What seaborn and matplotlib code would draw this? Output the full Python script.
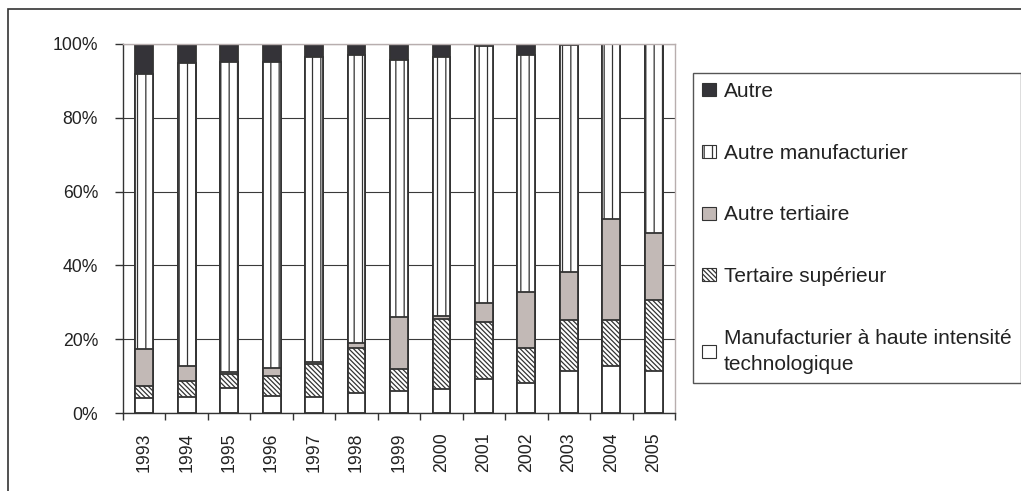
import numpy as np
import pandas as pd
import matplotlib.pyplot as plt
import seaborn as sns
from matplotlib.patches import Patch, Rectangle

years = ["1993", "1994", "1995", "1996", "1997", "1998", "1999",
         "2000", "2001", "2002", "2003", "2004", "2005"]
haute_tech = [4.1, 4.4, 6.9, 4.6, 4.4, 5.5, 6.0, 6.4, 9.1, 8.2, 11.4, 12.7, 11.4]
tert_sup = [3.2, 4.4, 3.6, 5.5, 8.8, 12.2, 5.8, 19.2, 15.5, 9.3, 13.8, 12.5, 19.2]
autre_tert = [10.0, 4.0, 0.6, 2.0, 0.5, 1.4, 14.1, 0.7, 5.3, 15.2, 13.1, 27.3, 18.3]
autre_manuf = [74.7, 82.0, 84.1, 83.1, 82.9, 77.9, 69.8, 70.3, 69.6, 64.3, 61.4, 47.5, 51.1]
autre = [8.0, 5.2, 4.8, 4.8, 3.4, 3.0, 4.3, 3.4, 0.5, 3.0, 0.3, 0.0, 0.0]

labels = ["Autre", "Autre manufacturier", "Autre tertiaire",
          "Tertaire supérieur", "Manufacturier à haute intensité\ntechnologique"]

sns.set_theme(style="white")
plt.rcParams["font.family"] = ["Liberation Sans", "DejaVu Sans"]
plt.rcParams["hatch.linewidth"] = 0.9
plt.rcParams["hatch.color"] = "#333333"

df = pd.DataFrame({"annee": years, "ht": haute_tech, "ts": tert_sup,
                   "at": autre_tert, "am": autre_manuf, "au": autre})
df["c1"] = df["ht"]
df["c2"] = df["c1"] + df["ts"]
df["c3"] = df["c2"] + df["at"]
df["c4"] = df["c3"] + df["am"]
df["c5"] = df["c4"] + df["au"]

edge = "#333333"
# drawn from the tallest cumulative layer down
layers = [("c5", "#343338", None),
          ("c4", "white", "||"),
          ("c3", "#c2b9b6", None),
          ("c2", "white", "\\" * 7),
          ("c1", "white", None)]

fig = plt.figure(figsize=(10.21, 4.91), dpi=100)
ax = fig.add_axes([123 / 1021, 1 - 413 / 491, 552 / 1021, 369 / 491])

for col, fc, hatch in layers:
    sns.barplot(data=df, x="annee", y=col, order=years, color=fc,
                saturation=1, hatch=hatch, edgecolor=edge, linewidth=1.3,
                width=0.42, errorbar=None, ax=ax)

ax.set_xlim(-0.5, len(years) - 0.5)
ax.set_ylim(0, 100)
ax.set_yticks(range(0, 101, 20))
ax.set_yticklabels([f"{v}%" for v in range(0, 101, 20)])
ax.set_xticks(range(len(years)))
ax.set_xticklabels(years, rotation=90)
ax.set_xticks(np.arange(-0.5, len(years), 1), minor=True)
ax.set_xlabel("")
ax.set_ylabel("")

ax.tick_params(axis="x", which="major", length=0, pad=14,
               labelsize=12.7, labelcolor="#222222")
ax.tick_params(axis="x", which="minor", length=5, width=1, color=edge,
               direction="out", bottom=True)
ax.tick_params(axis="y", length=6, width=1, color=edge, direction="out",
               left=True, pad=12, labelsize=12.7, labelcolor="#222222")

ax.yaxis.grid(True, color="#3a3a3a", linewidth=0.8)
ax.set_axisbelow(True)
for s in ["left", "bottom"]:
    ax.spines[s].set_color(edge)
    ax.spines[s].set_linewidth(1.0)
for s in ["top", "right"]:
    ax.spines[s].set_color("#b8aeae")
    ax.spines[s].set_linewidth(1.0)

handles = [Patch(facecolor=fc, edgecolor=edge, hatch=h, linewidth=0.8)
           for _, fc, h in layers]
leg = fig.legend(handles, labels, loc="upper left",
                 bbox_to_anchor=(693 / 1021, 1 - 72.7 / 491), borderaxespad=0,
                 frameon=True, fancybox=False, edgecolor="#555555",
                 framealpha=1, fontsize=15, labelspacing=2.05,
                 handlelength=0.67, handleheight=0.58, handletextpad=0.35,
                 borderpad=0.45, labelcolor="#222222")
for t in leg.get_texts():
    t.set_linespacing(1.45)

fig.patches.append(Rectangle((8 / 1021, -0.1), 1.1, 1.1 - 9 / 491,
                             transform=fig.transFigure, fill=False,
                             edgecolor=edge, linewidth=1.2))

fig.savefig("out.png", dpi=100)
